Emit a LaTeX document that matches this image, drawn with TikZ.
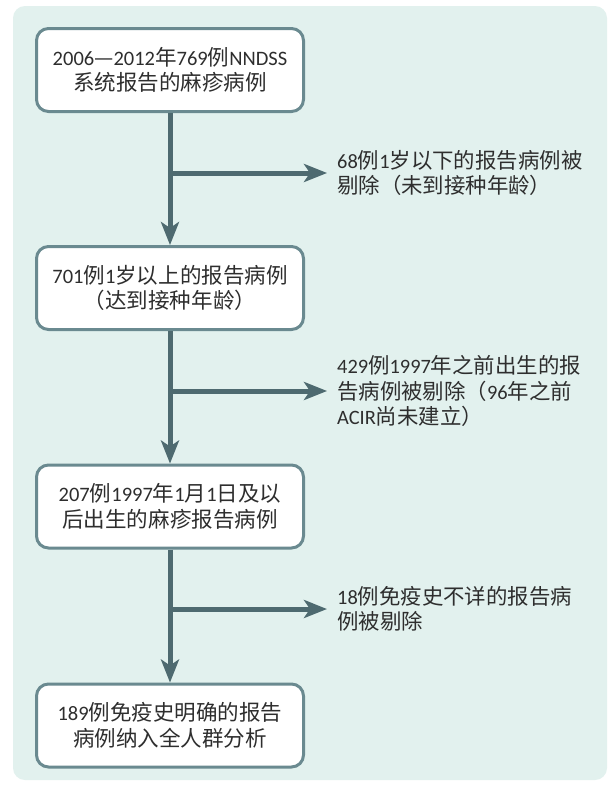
\documentclass[tikz,border=0pt]{standalone}
\usepackage{fontspec}
\setmainfont{Carlito}
\newfontfamily\cjk[Scale=1.05]{Noto Sans CJK SC}
\newcommand\Z[1]{{\cjk #1}}
\usetikzlibrary{arrows.meta}
\definecolor{panel}{HTML}{E2F1EE}
\definecolor{boxline}{HTML}{6A8A90}
\definecolor{arrowc}{HTML}{4E6A70}
\definecolor{txt}{HTML}{2E2E2E}
\begin{document}
\begin{tikzpicture}[x=1pt,y=-1pt,
  box/.style={draw=boxline, line width=3pt, fill=white, rounded corners=12pt,
    minimum width=267pt, minimum height=83pt, align=center, text=txt,
    font=\fontsize{20.5}{25.5}\selectfont, inner sep=0pt},
  side/.style={anchor=west, align=left, text=txt,
    font=\fontsize{20.4}{25.5}\selectfont, inner xsep=10pt, inner ysep=0pt},
  arr/.style={draw=arrowc, line width=5pt, -{Stealth[length=23pt,width=18pt,inset=6pt]}}]
\useasboundingbox (0,0) rectangle (608,785);
\fill[white] (0,0) rectangle (608,785);
\fill[panel, rounded corners=12pt] (13,6) rectangle (607,780);

\node[box] (b1) at (170,70) {2006\Z{—}2012\Z{年}769\Z{例}NNDSS\\\Z{系统报告的麻疹病例}};
\node[box] (b2) at (170,288) {701\Z{例}1\Z{岁以上的报告病例}\\\Z{（达到接种年龄）}};
\node[box] (b3) at (170,506.5) {207\Z{例}1997\Z{年}1\Z{月}1\Z{日及以}\\\Z{后出生的麻疹报告病例}};
\node[box] (b4) at (170,725.5) {189\Z{例免疫史明确的报告}\\\Z{病例纳入全人群分析}};

\node[side] (s1) at (327,173) {68\Z{例}1\Z{岁以下的报告病例被}\\\Z{剔除（未到接种年龄）}};
\node[side] (s2) at (327,391) {429\Z{例}1997\Z{年之前出生的报}\\\Z{告病例被剔除（}96\Z{年之前}\\ACIR\Z{尚未建立）}};
\node[side] (s3) at (327,609) {18\Z{例免疫史不详的报告病}\\\Z{例被剔除}};

\draw[arr] (b1.south) -- (b2.north);
\draw[arr] (b2.south) -- (b3.north);
\draw[arr] (b3.south) -- (b4.north);
\draw[arr] (b1.south |- s1.west) -- (s1.west);
\draw[arr] (b2.south |- s2.west) -- (s2.west);
\draw[arr] (b3.south |- s3.west) -- (s3.west);
\end{tikzpicture}
\end{document}
